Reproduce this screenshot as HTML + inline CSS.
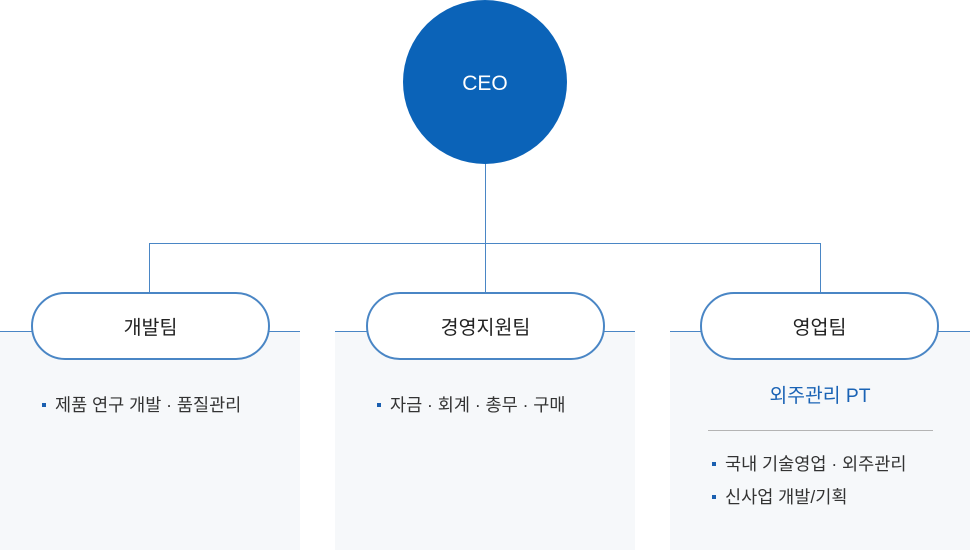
<!DOCTYPE html>
<html><head><meta charset="utf-8"><style>
*{margin:0;padding:0;box-sizing:border-box}
body{width:970px;height:550px;background:#fff;position:relative;overflow:hidden;font-family:"Liberation Sans","Noto Sans CJK KR","NanumGothic",sans-serif}
.abs{position:absolute}
.panel{position:absolute;top:332px;width:300px;height:218px;background:#f6f8fa}
.vl{position:absolute;width:1px;background:#4a86c5}
.pill{position:absolute;top:292px;width:239px;height:68px;border:2px solid #4a86c5;border-radius:34px;background:#fff;font-size:19.5px;color:#222;text-align:center;line-height:68px}
.item{position:absolute;font-size:17.5px;color:#333;line-height:20px;white-space:nowrap}
.item:before{content:"";position:absolute;left:-13px;top:8px;width:4px;height:4px;background:#1a5fb0}
</style></head><body>
<div class="panel" style="left:0"></div>
<div class="panel" style="left:335px"></div>
<div class="panel" style="left:670px"></div>
<div class="abs" style="left:0;top:331px;width:300px;height:1px;background:#4a86c5"></div>
<div class="abs" style="left:335px;top:331px;width:300px;height:1px;background:#4a86c5"></div>
<div class="abs" style="left:670px;top:331px;width:300px;height:1px;background:#4a86c5"></div>
<div class="abs" style="left:149px;top:243px;width:672px;height:1px;background:#4a86c5"></div>
<div class="vl" style="left:485px;top:150px;height:143px"></div>
<div class="vl" style="left:149px;top:243px;height:50px"></div>
<div class="vl" style="left:820px;top:243px;height:50px"></div>
<div class="abs" style="left:403px;top:0;width:164px;height:164px;border-radius:50%;background:#0b63b8;color:#fff;font-size:21px;text-align:center;line-height:168px">CEO</div>
<div class="pill" style="left:31px">개발팀</div>
<div class="pill" style="left:366px">경영지원팀</div>
<div class="pill" style="left:700px">영업팀</div>
<div class="item" style="left:55px;top:395px">제품 연구 개발 · 품질관리</div>
<div class="item" style="left:390px;top:395px">자금 · 회계 · 총무 · 구매</div>
<div class="abs" style="left:670px;top:386px;width:300px;text-align:center;font-size:19.3px;color:#1a63b5;line-height:22px">외주관리 PT</div>
<div class="abs" style="left:708px;top:430px;width:225px;height:1px;background:#b4b4b4"></div>
<div class="item" style="left:725px;top:454px">국내 기술영업 · 외주관리</div>
<div class="item" style="left:725px;top:487px">신사업 개발/기획</div>
</body></html>
